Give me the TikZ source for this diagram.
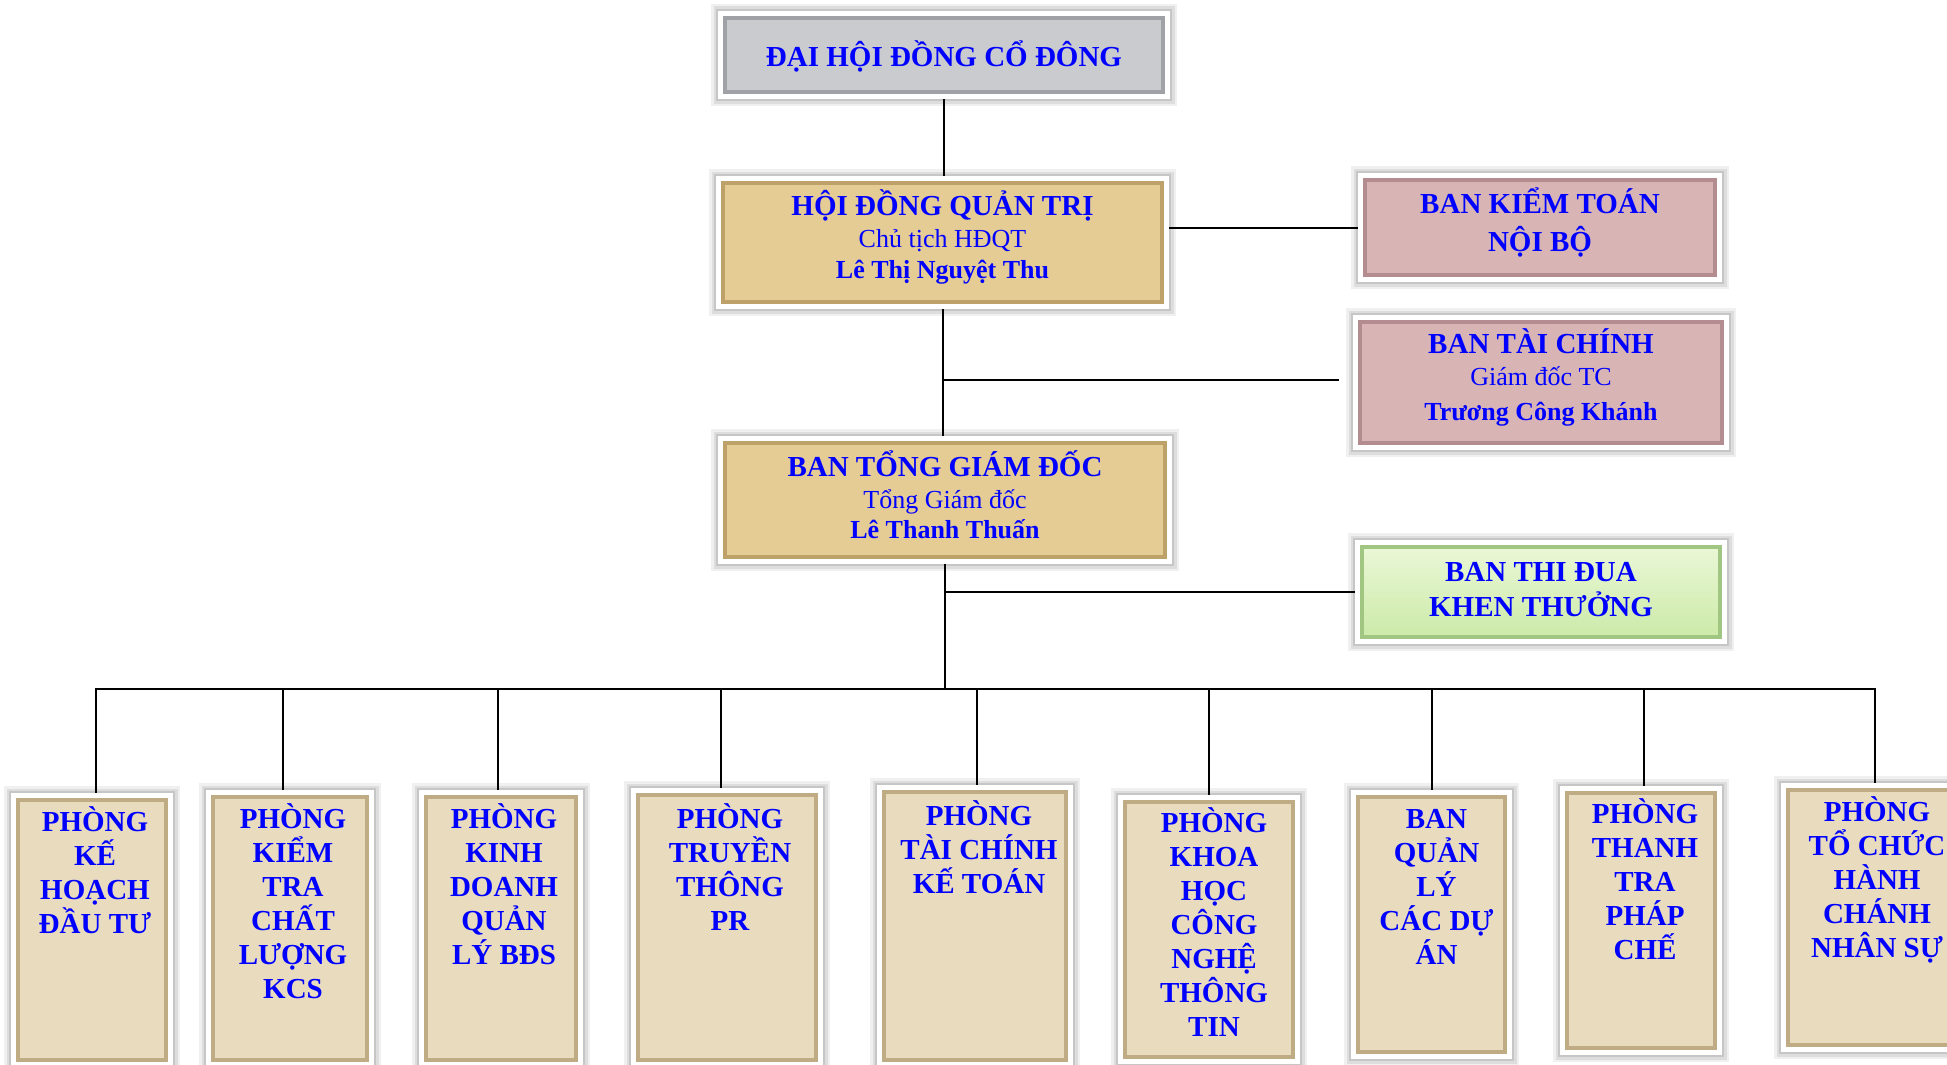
\documentclass[tikz,border=0pt]{standalone}
\usepackage{fontspec}
\setmainfont{Liberation Serif}
\usetikzlibrary{backgrounds}
\definecolor{txtblue}{RGB}{0,0,255}
\definecolor{granite}{RGB}{202,203,207}
\definecolor{graniteedge}{RGB}{160,161,166}
\definecolor{papyrus}{RGB}{228,204,148}
\definecolor{papyrusedge}{RGB}{190,160,105}
\definecolor{parch}{RGB}{232,219,190}
\definecolor{parchedge}{RGB}{192,172,132}
\definecolor{rose}{RGB}{216,180,180}
\definecolor{roseedge}{RGB}{178,140,142}
\definecolor{mintA}{RGB}{234,247,214}
\definecolor{mintB}{RGB}{204,234,168}
\definecolor{mintedge}{RGB}{160,198,130}
\newcommand\mySub[1]{{\fontsize{26}{30}\selectfont\mdseries #1}}
\newcommand\myName[1]{{\fontsize{26}{30}\selectfont\bfseries #1}}
\newcommand\myTop{\rule{0pt}{28pt}}
\newcommand\hfA{\fontsize{29}{34}\selectfont\bfseries}
\newcommand\hfB{\fontsize{29}{31}\selectfont\bfseries}
\newcommand\hfC{\fontsize{29}{32}\selectfont\bfseries}
\newcommand\hfD{\fontsize{29}{38}\selectfont\bfseries}
\newcommand\hfE{\fontsize{29}{35}\selectfont\bfseries}
\begin{document}
\lineskiplimit=-60pt
\begin{tikzpicture}[x=1pt,y=-1pt,
  framed/.style={
    preaction={draw=black,opacity=0.06,line width=28pt},
    preaction={draw=black,opacity=0.08,line width=23pt},
    preaction={draw=black,opacity=0.10,line width=18pt},
    preaction={draw=white,line width=14pt},
    line width=4pt, inner sep=0pt, rectangle},
  txt/.style={anchor=north, align=center, text=txtblue, inner sep=0pt},
  dept/.style={framed, fill=parch, draw=parchedge},
  conn/.style={line width=2pt, black}
]
\useasboundingbox (0,0) rectangle (1947,1065);
\clip (0,0) rectangle (1947,1065);

% upper boxes
\node[framed, fill=granite, draw=graniteedge, minimum width=438pt, minimum height=74pt,
  label={[txt, font=\hfA, yshift=-22pt]north:\myTop ĐẠI HỘI ĐỒNG CỔ ĐÔNG}] (dhcd) at (944,55) {};
\node[framed, fill=papyrus, draw=papyrusedge, minimum width=439pt, minimum height=119pt,
  label={[txt, font=\hfB, yshift=-6pt]north:\myTop HỘI ĐỒNG QUẢN TRỊ\\[1pt]\mySub{Chủ tịch HĐQT}\\\myName{Lê Thị Nguyệt Thu}}] (hdqt) at (942.5,242.5) {};
\node[framed, fill=rose, draw=roseedge, minimum width=350pt, minimum height=95pt,
  label={[txt, font=\hfD, yshift=-7pt]north:\myTop BAN KIỂM TOÁN\\NỘI BỘ}] (kt) at (1540,227.5) {};
\node[framed, fill=rose, draw=roseedge, minimum width=362pt, minimum height=121pt,
  label={[txt, font=\hfC, yshift=-5pt]north:\myTop BAN TÀI CHÍNH\\\mySub{Giám đốc TC}\\[3pt]\myName{Trương Công Khánh}}] (tc) at (1541,382.5) {};
\node[framed, fill=papyrus, draw=papyrusedge, minimum width=440pt, minimum height=114pt,
  label={[txt, font=\hfC, yshift=-7pt]north:\myTop BAN TỔNG GIÁM ĐỐC\\\mySub{Tổng Giám đốc}\\[-2pt]\myName{Lê Thanh Thuấn}}] (btgd) at (945,500) {};
\node[framed, top color=mintA, bottom color=mintB, draw=mintedge, minimum width=358pt, minimum height=90pt,
  label={[txt, font=\hfE, yshift=-8pt]north:\myTop BAN THI ĐUA\\KHEN THƯỞNG}] (td) at (1541,592) {};

% departments
\node[dept, minimum width=148pt, minimum height=260pt,
  label={[txt, font=\hfA, yshift=-5pt, xshift=3pt]north:\myTop PHÒNG\\KẾ\\HOẠCH\\ĐẦU TƯ}] (b1) at (92,930) {};
\node[dept, minimum width=154pt, minimum height=263pt,
  label={[txt, font=\hfA, yshift=-5pt, xshift=3pt]north:\myTop PHÒNG\\KIỂM\\TRA\\CHẤT\\LƯỢNG\\KCS}] (b2) at (290,928.5) {};
\node[dept, minimum width=150pt, minimum height=263pt,
  label={[txt, font=\hfA, yshift=-5pt, xshift=3pt]north:\myTop PHÒNG\\KINH\\DOANH\\QUẢN\\LÝ BĐS}] (b3) at (501,928.5) {};
\node[dept, minimum width=178pt, minimum height=265pt,
  label={[txt, font=\hfA, yshift=-7pt, xshift=3pt]north:\myTop PHÒNG\\TRUYỀN\\THÔNG\\PR}] (b4) at (727,927.5) {};
\node[dept, minimum width=182pt, minimum height=268pt,
  label={[txt, font=\hfA, yshift=-7pt, xshift=4pt]north:\myTop PHÒNG\\TÀI CHÍNH\\KẾ TOÁN}] (b5) at (975,926) {};
\node[dept, minimum width=168pt, minimum height=255pt,
  label={[txt, font=\hfA, yshift=-4pt, xshift=5pt]north:\myTop PHÒNG\\KHOA\\HỌC\\CÔNG\\NGHỆ\\THÔNG\\TIN}] (b6) at (1209,929.5) {};
\node[dept, minimum width=147pt, minimum height=255pt,
  label={[txt, font=\hfA, yshift=-5pt, xshift=5pt]north:\myTop BAN\\QUẢN\\LÝ\\CÁC DỰ\\ÁN}] (b7) at (1431.5,924.5) {};
\node[dept, minimum width=148pt, minimum height=255pt,
  label={[txt, font=\hfA, yshift=-4pt, xshift=4pt]north:\myTop PHÒNG\\THANH\\TRA\\PHÁP\\CHẾ}] (b8) at (1641,920.5) {};
\node[dept, minimum width=174pt, minimum height=255pt,
  label={[txt, font=\hfA, yshift=-5pt, xshift=2pt]north:\myTop PHÒNG\\TỔ CHỨC\\HÀNH\\CHÁNH\\NHÂN SỰ}] (b9) at (1875,917.5) {};

% connectors
\coordinate (bus) at (0,689);
\coordinate (tcend) at (1339,380);
\begin{pgfonlayer}{background}
\fill[white] (0,0) rectangle (1947,1065);
\draw[conn] (dhcd.south) -- (dhcd.south |- hdqt.north);
\draw[conn] (hdqt.east |- kt.west) -- (kt.west);
\draw[conn] (hdqt.south) -- (hdqt.south |- btgd.north);
\draw[conn] (hdqt.south |- tcend) -- (tcend);
\draw[conn] (btgd.south) -- (btgd.south |- bus);
\draw[conn] (btgd.south |- td.west) -- (td.west);
\draw[conn, line cap=rect] ([xshift=4pt]b1.north |- bus) -- (b9.north |- bus);
\foreach \b/\dx in {b1/4,b2/-7,b3/-3,b4/-6,b5/2,b6/0,b7/0,b8/3,b9/0}
  \draw[conn] ([xshift=\dx pt]\b.north |- bus) -- ([xshift=\dx pt]\b.north);
\end{pgfonlayer}
\end{tikzpicture}
\end{document}
